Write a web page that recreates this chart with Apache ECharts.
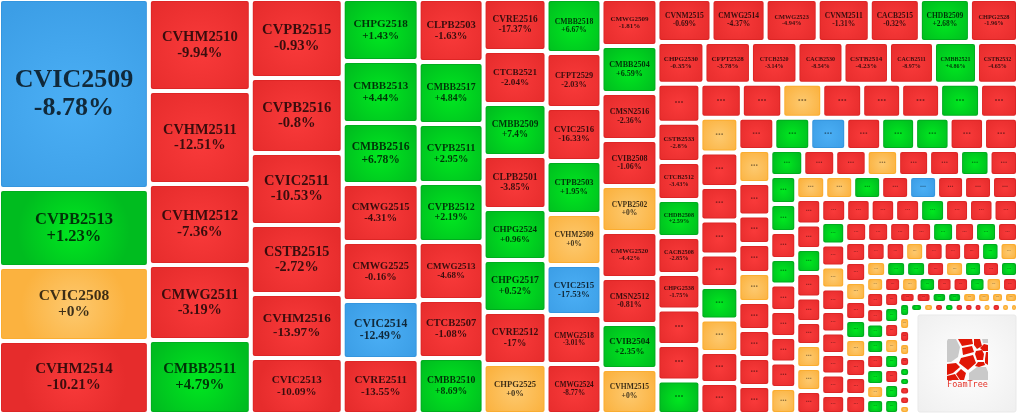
<!DOCTYPE html>
<html>
<head>
<meta charset="utf-8">
<style>html,body{margin:0;padding:0;background:#fff}#c{width:1017px;height:413px}</style>
<script src="https://cdn.jsdelivr.net/npm/echarts@6/dist/echarts.min.js"></script>
</head>
<body>
<div id="c"></div>
<script>
// Each strip is one column or row of the spiral treemap, largest first.
const stripNames = [
  ["CVIC2509","CVPB2513","CVIC2508","CVHM2514"],
  ["CVHM2510","CVHM2511","CVHM2512","CMWG2511","CMBB2511"],
  ["CVPB2515","CVPB2516","CVIC2511","CSTB2515","CVHM2516","CVIC2513"],
  ["CHPG2518","CMBB2513","CMBB2516","CMWG2515","CMWG2525","CVIC2514","CVRE2511"],
  ["CLPB2503","CMBB2517","CVPB2511","CVPB2512","CMWG2513","CTCB2507","CMBB2510"],
  ["CVRE2516","CTCB2521","CMBB2509","CLPB2501","CHPG2524","CHPG2517","CVRE2512","CHPG2525"],
  ["CMBB2518","CFPT2529","CVIC2516","CTPB2503","CVHM2509","CVIC2515","CMWG2518","CMWG2524"],
  ["CMWG2509","CMBB2504","CMSN2516","CVIB2508","CVPB2502","CMWG2520","CMSN2512","CVIB2504","CVHM2515"],
  ["CVNM2515","CMWG2514","CMWG2523","CVNM2511","CACB2515","CHDB2509","CHPG2528"],
  ["CHPG2530","CFPT2528","CTCB2520","CACB2530","CSTB2514","CACB2511","CMBB2521","CSTB2532"],
  ["...","CSTB2533","CTCB2512","CHDB2508","CACB2508","CHPG2538","...","...","..."]
];
const stripChanges = [
  ["-8.78","+1.23","+0","-10.21"],
  ["-9.94","-12.51","-7.36","-3.19","+4.79"],
  ["-0.93","-0.8","-10.53","-2.72","-13.97","-10.09"],
  ["+1.43","+4.44","+6.78","-4.31","-0.16","-12.49","-13.55"],
  ["-1.63","+4.84","+2.95","+2.19","-4.68","-1.08","+8.69"],
  ["-17.37","-2.04","+7.4","-3.85","+0.96","+0.52","-17","+0"],
  ["+6.67","-2.03","-16.33","+1.95","+0","-17.53","-3.01","-8.77"],
  ["-1.81","+6.59","-2.36","-1.06","+0","-4.42","-0.81","+2.35","+0"],
  ["-0.69","-4.37","-4.94","-1.31","-0.32","+2.68","-1.96"],
  ["-0.35","-3.78","-3.14","-8.54","-4.23","-8.97","+4.86","-4.65"],
  [null,"-2.8","-3.43","+2.59","-2.85","-1.75",null,null,null]
];
const stripValues = [
  [28500,11700,11100,10950],
  [9384,9486,8262,7650,7548],
  [7268,6900,6624,6348,5888,5152],
  [4712,4712,4636,4408,4484,4408,4180],
  [4095,4030,3835,3835,3770,3770,3640],
  [3276,3339,3276,3339,3213,3276,3276,3150],
  [2970,3025,2915,2915,2805,2750,2695,2750],
  [2632,2632,2632,2576,2576,2576,2576,2520,2520],
  [2322,2322,2236,2236,2150,2150,2064],
  [1974,1953,1953,1932,1911,1890,1806,1722],
  [1677,1677,1634,1591,1591,1527,1527,1527,1441],
  [1411,1377,1360,1360,1326,1326,1360,1292],
  [1311,1311,1273,1292,1235,1235,1235,1178,1178],
  [1152,1152,1152,1120,1088,1104,1104,1088],
  [1056,1040,912,928,928,896,896,896,896],
  [858,832,819,819,806,806,767,741],
  [728,728,702,663,689,676,663,663,676],
  [667,644,644,644,644,621,644,598],
  [638,612,600,612,612,575,575,575,575],
  [575,564,564,575,575,552,564,564],
  [540,528,528,540,516,516,492,492,456],
  [440,440,440,420,440,420,440,420],
  [420,420,399,399,399,399,399,378,399],
  [371,371,361,371,351,361,351,351],
  [320,320,320,304,304,288,288,288],
  [270,288,279,279,270,270,288,252,270],
  [255,263,263,248,248,248,248,240],
  [225,240,225,240,225,225,225,225],
  [182,176,171,165,165,154,143,154],
  [154,143,143,143,121,110,99,105,105,99],
  [117,99,90,95,86,86,81,81,86,81,72]
];
// State of each cell: R falling, G rising, O unchanged, B highlighted.
const stripStates = [
  "BGOR","RRRRG","RRRRRR","GGGRRBR","RGGGRRG","RRGRGGRO","GRRGOBRR","RGRRORRGO",
  "RRRRRGR","RRRRRRGR","RRRGRRRRG","RRORRRGR","ORRRRGORR","RGBRGGRR","ORRRORRRR",
  "GRRORRGR","GGRGRRRRO","OOGRBRRR","RRGRRROOR","RRRRGRRR","GRORRRRRR","RRRRGRGR",
  "RRORGORRR","RRORRRGO","OGGROGRG","ORRGGRGOG","ROGRRGOR","RGROGRGG","RRGGOOOO",
  "GORORGGRRO","GORGRRROROO"
];
// Remainder of the layout, where the attribution box sits.
const logoSlotValue = 11016;

const labelFonts = [
  [26,16.5,15.5,15],
  [14.7,14.4,14.8,14.3,14.8],
  [14.7,14.6,14.5,14.2,13.2,11],
  [11.1,11,11.6,10.6,10.4,11.7,11],
  [10.6,9.8,10.4,10,9,10.5,9.7],
  [9.3,9.2,9.3,9.7,9,9.8,9.6,8.6],
  [7.7,8.3,8.8,8.4,7.6,8.9,7.3,7.2],
  [7,8.1,8,8,7.5,6.9,8,9,7.6],
  [7.6,7.5,6.3,7.5,7.5,7.5,6.3],
  [7,7,6,6,7,6,6,6],
  [12,6.7,6.3,6.2,6.2,6.2,12,12,12]
];
const dotFonts = [0,0,0,0,0,0,0,0,0,0,0,12,11,11,10,9,9,8,8,7,7,6,6,5,5,4.5,4.5,4.5,4,4,3.5];

const palette = {
  R:{mid:"#f93a3a",edge:"#e62c2c",line:"#de2626"},
  G:{mid:"#00e820",edge:"#00bc1f",line:"#00ae1e"},
  O:{mid:"#fdc96f",edge:"#fbb23f",line:"#fbad30"},
  B:{mid:"#4bafF5",edge:"#3c9ee6",line:"#3596df"}
};
const GAP = 4;
function leaf(i, j) {
  const names = stripNames[i];
  const name = names ? names[j] : "...";
  const change = stripChanges[i] ? stripChanges[i][j] : null;
  const font = labelFonts[i] ? labelFonts[i][j] : dotFonts[i];
  const c = palette[stripStates[i][j]];
  const dots = name === "...";
  return {
    name: name,
    value: stripValues[i][j],
    label: {
      show: true,
      position: "inside",
      padding: 0,
      overflow: "none",
      formatter: dots ? "..." : "{b}\n" + change + "%",
      fontFamily: "Liberation Serif",
      fontWeight: "bold",
      fontSize: font,
      lineHeight: Math.round(font * 1.06 * 10) / 10,
      color: dots ? "rgba(0,0,0,0.45)" : "rgba(0,0,0,0.76)",
      offset: dots ? [0, -font * 0.28] : [0, 0]
    },
    itemStyle: {
      color: {type:"radial",x:0.5,y:0.55,r:0.78,colorStops:[{offset:0,color:c.mid},{offset:1,color:c.edge}]},
      borderColor: c.line,
      borderWidth: 1,
      borderRadius: 2
    }
  };
}
function group(children) {
  return {children: children, itemStyle: {gapWidth: GAP, borderWidth: 0, borderColor: "#fff"}};
}
function chain(nodes) {
  return nodes.length === 1 ? nodes[0] : group([nodes[0], chain(nodes.slice(1))]);
}
const strips = stripValues.map((vals, i) => {
  const leaves = vals.map((v, j) => leaf(i, j));
  if (i === 0) {
    return group([leaves[0], group([group([leaves[1], leaves[2]]), leaves[3]])]);
  }
  return chain(leaves);
});
const logoSlot = {name: "", value: logoSlotValue, label: {show: false},
  itemStyle: {color: "rgba(255,255,255,0)", borderWidth: 0}};
const tree = chain(strips.concat([logoSlot]));

// Attribution badge (decoration, not data).
const LX = 947, LY = 339;
const logoRed = [
  [[11,0],[25,0],[26,5],[15,7]],
  [[27,0],[33,0],[35,7],[30,10],[27,6]],
  [[15,9],[25,7],[27,13],[16,16]],
  [[37,5],[41,6],[41,12],[36,12],[33,9]],
  [[29,12],[35,11],[37,15],[36,21],[30,21],[28,15]],
  [[39,13],[41,13],[41,26],[38,24],[38,20]],
  [[14,19],[26,16],[29,24],[21,31],[12,24]],
  [[31,23],[37,23],[38,26],[32,28],[28,27]],
  [[0,25],[9,24],[13,28],[6,34],[0,36]],
  [[0,37],[8,35],[12,41],[0,41]],
  [[14,30],[19,34],[17,41],[13,41],[9,35]]
];
const logoGrey = [
  [[1,0],[9,0],[13,8],[11,18],[4,23],[0,23],[0,2]],
  [[35,0],[41,0],[41,4],[36,4]],
  [[22,41],[22,34],[30,28],[39,28],[41,33],[41,41]]
];
const poly = (pts, fill) => ({type:"polygon",z:10,silent:true,
  shape:{points:pts.map(p => [LX + p[0], LY + p[1]])},style:{fill:fill}});
const graphics = [
  {type:"rect",z:9,silent:true,shape:{x:918,y:315,width:98,height:97,r:2},
   style:{fill:{type:"radial",x:0.5,y:0.5,r:0.7,colorStops:[{offset:0,color:"#ffffff"},{offset:1,color:"#efefef"}]},stroke:"#e9e9e9",lineWidth:1}}
].concat(logoGrey.map(p => poly(p,"#c9c9c9")), logoRed.map(p => poly(p,"#e01606")), [
  {type:"text",z:10,silent:true,x:967.5,y:385,
   style:{text:"FoamTree",fill:"#e6342a",font:"8.5px 'DejaVu Sans Mono'",textAlign:"center",textVerticalAlign:"middle"}}
]);

const chart = echarts.init(document.getElementById("c"), null, {renderer:"canvas"});
chart.setOption({
  animation: false,
  backgroundColor: "#fff",
  graphic: {elements: graphics},
  series: [{
    type: "treemap",
    left: 1, top: 1, width: 1015, height: 411,
    squareRatio: 1,
    sort: false,
    roam: false,
    nodeClick: false,
    visibleMin: 0,
    breadcrumb: {show: false},
    emphasis: {disabled: true},
    upperLabel: {show: false},
    data: [tree]
  }]
});
</script>
</body>
</html>
